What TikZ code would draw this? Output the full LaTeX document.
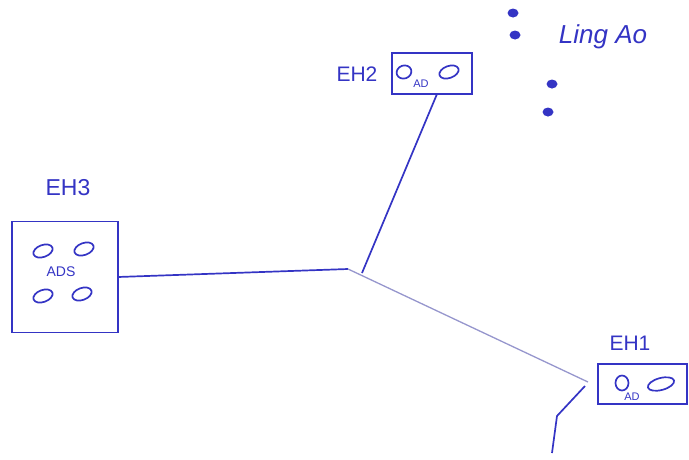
\documentclass[tikz,border=0pt]{standalone}
\usepackage{fontspec}
\setmainfont{Liberation Sans}
\usetikzlibrary{shapes.geometric}
\definecolor{ink}{RGB}{52,52,196}
\definecolor{inkpale}{RGB}{150,150,205}
\tikzset{
  hall/.style={draw, outer sep=0, inner sep=0},
  pill/.style={ellipse, draw, inner sep=0, minimum width=20pt, minimum height=12pt, rotate=20},
  blob/.style={ellipse, fill, inner sep=0, minimum width=11pt, minimum height=9pt},
  tag/.style={font=\fontsize{21}{24}\selectfont, inner sep=0}
}
\begin{document}
\begin{tikzpicture}[x=1pt, y=-1pt, line width=1.7pt, ink]
  \useasboundingbox (0,0) rectangle (689,459);
        % halls
        \draw node [hall, minimum width=80pt, minimum height=41pt] (eh2) at (432,73.5) {};
        \draw node [hall, minimum width=106pt, minimum height=111pt] (eh3) at (65,277) {};
        \draw node [hall, minimum width=89pt, minimum height=40pt] (eh1) at (642.5,384) {};
        \node[tag] (eh2tag) at (357,74) {EH2};
        \node[tag, font=\fontsize{23}{26}\selectfont] (eh3tag) at (68,188) {EH3};
        \node[tag] (eh1tag) at (630,343) {EH1};
        % detectors
        \node[pill, minimum width=15pt, minimum height=13pt] (d21) at (404,72) {};
        \node[pill] (d22) at (449,72) {};
        \node[font=\fontsize{11}{12}\selectfont, inner sep=0] (ad2) at (421,84) {AD};
        \node[pill] (d31) at (43,251) {};
        \node[pill] (d32) at (84,249) {};
        \node[pill] (d33) at (43,296) {};
        \node[pill] (d34) at (82,294) {};
        \node[font=\fontsize{14}{16}\selectfont, inner sep=0] (ads) at (61,272) {ADS};
        \node[pill, rotate=-20, minimum width=13pt, minimum height=15pt] (d11) at (622,383) {};
        \node[pill, rotate=-5, minimum width=27pt, minimum height=12pt] (d12) at (661,384) {};
        \node[font=\fontsize{11}{12}\selectfont, inner sep=0] (ad1) at (632,397) {AD};
        % reactors
        \node[blob] (r1) at (513,13) {};
        \node[blob] (r2) at (515,35) {};
        \node[blob] (r3) at (552,84) {};
        \node[blob] (r4) at (548,112) {};
        \node[font=\itshape\fontsize{26}{30}\selectfont, inner sep=0] (lingao) at (603,37) {Ling Ao};
        % tunnels
        \coordinate (hub) at (348,269);
        \coordinate (stem2) at (362,273);
        \coordinate (tap1) at (588,382);
        \coordinate (tail0) at (585,386);
        \coordinate (tail1) at (557,416);
        \coordinate (tail2) at (552,453);
        \draw (eh3.east) -- (hub);
        \draw ([xshift=5pt]eh2.south) -- (stem2);
        \draw[inkpale, line width=1.3pt] (hub) -- (tap1);
        \draw (tail0) -- (tail1) -- (tail2);
\end{tikzpicture}
\end{document}
